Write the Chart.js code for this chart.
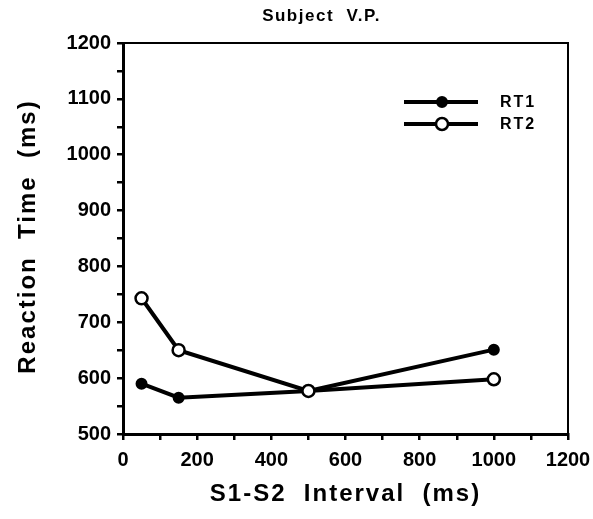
<!DOCTYPE html>
<html>
<head>
<meta charset="utf-8">
<script src="https://cdn.jsdelivr.net/npm/chart.js@4/dist/chart.umd.min.js"></script>
<style>
  html, body { margin: 0; padding: 0; background: #fff; }
  #wrap { width: 593px; height: 519px; }
</style>
</head>
<body>
<div id="wrap"><canvas id="chart"></canvas></div>
<script>
// S1-S2 intervals (ms)
const intervals = [50, 150, 500, 1000];
// reaction times (ms)
const rt1 = [590, 565, 577, 651];
const rt2 = [743, 650, 577, 598];
const seriesNames = ['RT1', 'RT2'];
const chartTitle = 'Subject  V.P.';
const xTitle = 'S1-S2  Interval  (ms)';
const yTitle = 'Reaction  Time  (ms)';

const FONT = '"Liberation Sans", Arial, Helvetica, sans-serif';

// box around the plot area
const frame = {
  id: 'frame',
  beforeDatasetsDraw(chart) {
    const { ctx, chartArea: a } = chart;
    ctx.save();
    ctx.strokeStyle = '#000';
    ctx.lineWidth = 2;
    ctx.strokeRect(a.left, a.top, a.right - a.left, a.bottom - a.top);
    ctx.restore();
  }
};

// title + axis titles, drawn with a bit of letter spacing like the original
const titles = {
  id: 'titles',
  afterDraw(chart) {
    const { ctx, chartArea: a } = chart;
    ctx.save();
    ctx.fillStyle = '#000';
    ctx.textAlign = 'center';
    ctx.textBaseline = 'middle';

    ctx.letterSpacing = '1.5px';
    ctx.font = 'bold 17px ' + FONT;
    ctx.fillText(chartTitle, chart.width / 2 + 25, 16);

    ctx.letterSpacing = '2px';
    ctx.font = 'bold 24px ' + FONT;
    ctx.fillText(xTitle, (a.left + a.right) / 2, 494);

    ctx.translate(28, (a.top + a.bottom) / 2 - 2);
    ctx.rotate(-Math.PI / 2);
    ctx.fillText(yTitle, 0, 0);
    ctx.restore();
  }
};

// legend drawn inside the plot, upper right
const insideLegend = {
  id: 'insideLegend',
  afterDraw(chart) {
    const { ctx, chartArea: a } = chart;
    ctx.save();
    chart.data.datasets.forEach((ds, i) => {
      const y = a.top + 59 + i * 22;
      const x0 = a.left + 281, x1 = a.left + 355;
      ctx.strokeStyle = '#000';
      ctx.lineWidth = 4;
      ctx.beginPath();
      ctx.moveTo(x0, y);
      ctx.lineTo(x1, y);
      ctx.stroke();
      ctx.beginPath();
      ctx.arc(a.left + 319, y, ds.pointRadius, 0, Math.PI * 2);
      ctx.fillStyle = ds.pointBackgroundColor;
      ctx.fill();
      ctx.lineWidth = ds.pointBorderWidth;
      ctx.stroke();
      ctx.fillStyle = '#000';
      ctx.letterSpacing = '2px';
      ctx.font = 'bold 16px ' + FONT;
      ctx.textBaseline = 'middle';
      ctx.fillText(ds.label, a.left + 377, y + 1);
    });
    ctx.restore();
  }
};

const ctx = document.getElementById('chart').getContext('2d');
new Chart(ctx, {
  type: 'line',
  data: {
    datasets: [
      {
        label: seriesNames[0],
        data: intervals.map((x, i) => ({ x: x, y: rt1[i] })),
        order: 1,
        borderColor: '#000',
        borderWidth: 4,
        pointRadius: 5,
        pointBackgroundColor: '#000',
        pointBorderColor: '#000',
        pointBorderWidth: 2,
        fill: false,
      },
      {
        label: seriesNames[1],
        data: intervals.map((x, i) => ({ x: x, y: rt2[i] })),
        order: 0, // drawn on top, open circle shows at the shared point
        borderColor: '#000',
        borderWidth: 4,
        pointRadius: 6,
        pointBackgroundColor: '#fff',
        pointBorderColor: '#000',
        pointBorderWidth: 2.5,
        fill: false,
      },
    ],
  },
  options: {
    responsive: true,
    maintainAspectRatio: false,
    animation: false,
    layout: { padding: { top: 43, right: 25, bottom: 0, left: 0 } },
    plugins: {
      legend: { display: false },
      tooltip: { enabled: false },
      title: { display: false },
    },
    scales: {
      x: {
        type: 'linear',
        min: 0,
        max: 1200,
        afterFit: (s) => { s.height = 85; s.paddingLeft = 0; s.paddingRight = 0; },
        grid: { display: true, drawOnChartArea: false, drawTicks: true, tickLength: 6, color: '#000', lineWidth: 2.5 },
        border: { display: true, color: '#000', width: 3 },
        ticks: {
          stepSize: 100,
          autoSkip: false,
          maxRotation: 0,
          color: '#000',
          padding: 8,
          font: { family: FONT, size: 20, weight: 'bold' },
          callback: (v) => (v % 200 === 0 ? v : ''),
        },
      },
      y: {
        min: 500,
        max: 1200,
        afterFit: (s) => { s.width = 123; s.paddingTop = 0; s.paddingBottom = 0; },
        grid: { display: true, drawOnChartArea: false, drawTicks: true, tickLength: 6, color: '#000', lineWidth: 2.5 },
        border: { display: true, color: '#000', width: 3 },
        ticks: {
          stepSize: 50,
          autoSkip: false,
          color: '#000',
          padding: 6,
          font: { family: FONT, size: 20, weight: 'bold' },
          callback: (v) => (v % 100 === 0 ? v : ''),
        },
      },
    },
  },
  plugins: [frame, titles, insideLegend],
});
</script>
</body>
</html>
